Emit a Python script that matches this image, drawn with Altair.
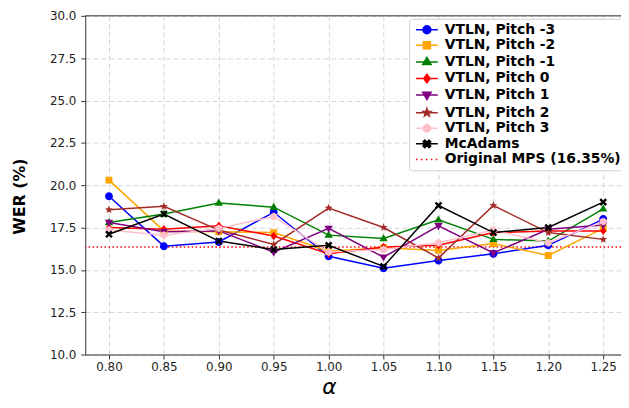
import math
import altair as alt
import pandas as pd

# ---------------- data ----------------
alphas = [0.80, 0.85, 0.90, 0.95, 1.00, 1.05, 1.10, 1.15, 1.20, 1.25]
series_names = ["VTLN, Pitch -3", "VTLN, Pitch -2", "VTLN, Pitch -1", "VTLN, Pitch 0",
                "VTLN, Pitch 1", "VTLN, Pitch 2", "VTLN, Pitch 3", "McAdams"]
wer_pitch_m3 = [19.35, 16.4, 16.65, 18.4, 15.8, 15.1, 15.55, 15.95, 16.45, 18.0]
wer_pitch_m2 = [20.3, 17.3, 17.25, 17.2, 16.1, 16.3, 16.15, 16.55, 15.85, 17.45]
wer_pitch_m1 = [17.8, 18.3, 18.95, 18.7, 17.05, 16.85, 17.95, 16.8, 16.7, 18.6]
wer_pitch_0 = [17.5, 17.4, 17.6, 17.0, 15.95, 16.35, 16.45, 17.2, 17.3, 17.3]
wer_pitch_1 = [17.8, 17.25, 17.3, 16.05, 17.45, 15.75, 17.6, 16.0, 17.4, 17.65]
wer_pitch_2 = [18.55, 18.75, 17.35, 16.5, 18.65, 17.5, 15.7, 18.8, 17.2, 16.8]
wer_pitch_3 = [17.35, 17.05, 17.45, 18.15, 16.05, 16.2, 16.6, 17.35, 16.6, 17.85]
wer_mcadams = [17.1, 18.3, 16.7, 16.2, 16.45, 15.2, 18.8, 17.2, 17.5, 19.0]
baseline_label = "Original MPS (16.35%)"
baseline_wer = 16.35
y_ticks = [10.0, 12.5, 15.0, 17.5, 20.0, 22.5, 25.0, 27.5, 30.0]

all_series = [wer_pitch_m3, wer_pitch_m2, wer_pitch_m1, wer_pitch_0,
              wer_pitch_1, wer_pitch_2, wer_pitch_3, wer_mcadams]
colors = ["#0000ff", "#ffa500", "#008000", "#ff0000", "#800080", "#a52a2a", "#ffc0cb", "#000000", "#ff0000"]

rows = []
for name, vals in zip(series_names, all_series):
    for a, v in zip(alphas, vals):
        rows.append({"alpha": a, "wer": v, "series": name})
df = pd.DataFrame(rows)

# ---------------- marker paths (line segment shown only in legend) ----------------
LINE = "M-2.2,0H2.2"

def poly(pts):
    return "M" + "L".join(f"{x:.3f},{y:.3f}" for x, y in pts) + "Z"

def circle(r):
    return f"M{-r},0A{r},{r},0,1,1,{r},0A{r},{r},0,1,1,{-r},0Z"

def star(R, r):
    pts = []
    for i in range(10):
        ang = math.radians(-90 + 36 * i)
        rad = R if i % 2 == 0 else r
        pts.append((rad * math.cos(ang), rad * math.sin(ang)))
    return poly(pts)

def hexagon(r):
    return poly([(r * math.cos(math.radians(-90 + 60 * i)), r * math.sin(math.radians(-90 + 60 * i))) for i in range(6)])

def xmark(a, w):
    base = [(-w, -a), (w, -a), (w, -w), (a, -w), (a, w), (w, w), (w, a), (-w, a), (-w, w), (-a, w), (-a, -w), (-w, -w)]
    c = math.cos(math.radians(45)); s = math.sin(math.radians(45))
    return poly([(x * c - y * s, x * s + y * c) for x, y in base])

dotted = "".join(f"M{x:.2f},0H{x + 0.3:.2f}" for x in [-2.2, -1.2, -0.2, 0.8, 1.8])

shapes = [
    LINE + circle(0.8),
    LINE + "M-0.7,-0.7H0.7V0.7H-0.7Z",
    LINE + poly([(0, -0.9), (0.85, 0.55), (-0.85, 0.55)]),
    LINE + poly([(0, -0.85), (0.65, 0), (0, 0.85), (-0.65, 0)]),
    LINE + poly([(0, 0.9), (0.85, -0.55), (-0.85, -0.55)]),
    LINE + star(0.85, 0.36),
    LINE + hexagon(0.8),
    LINE + xmark(0.85, 0.24),
    dotted,
]

domain = series_names + [baseline_label]

legend = alt.Legend(
    title=None, orient="none", legendX=327, legendY=3,
    padding=4, fillColor="white", strokeColor="#d0d0d0", cornerRadius=3,
    labelFont="DejaVu Sans", labelFontSize=14, labelFontWeight="bold", labelColor="black",
    labelLimit=400,
    symbolSize=100, symbolStrokeWidth=1.5, symbolOffset=7, labelOffset=11, rowPadding=1.75,
    symbolOpacity=1,
)

x_enc = alt.X("alpha:Q", scale=alt.Scale(domain=[0.7784, 1.2662], nice=False, zero=False),
              axis=alt.Axis(values=alphas, format=".2f", title="α", titleFont="DejaVu Sans",
                            titleFontStyle="italic", titleFontWeight="normal", titleFontSize=22,
                            titleX=246, titleY=39, titleBaseline="alphabetic", titleAlign="center"))
y_enc = alt.Y("wer:Q", scale=alt.Scale(domain=[10, 30], nice=False, zero=False),
              axis=alt.Axis(values=y_ticks, format=".1f", title="WER (%)", titleFont="DejaVu Sans",
                            titleFontWeight="bold", titleFontSize=16, titleAngle=270,
                            titleX=-66, titleY=182, titleAlign="center", titleBaseline="middle"))

color_scale = alt.Scale(domain=domain, range=colors)

base = alt.Chart(df)

lines = base.mark_line(strokeWidth=1.5).encode(
    x=x_enc, y=y_enc,
    stroke=alt.Stroke("series:N", scale=color_scale, legend=legend),
    detail="series:N",
)

points = base.mark_point(filled=True, size=100, strokeWidth=0, opacity=1).encode(
    x="alpha:Q", y="wer:Q",
    fill=alt.Fill("series:N", scale=color_scale, legend=legend),
    stroke=alt.Stroke("series:N", scale=color_scale, legend=legend),
    shape=alt.Shape("series:N", scale=alt.Scale(domain=domain, range=shapes), legend=legend),
)

rule = alt.Chart(pd.DataFrame({"wer": [baseline_wer]})).mark_rule(
    color="red", strokeDash=[1.5, 2.5], strokeWidth=1.5).encode(y="wer:Q")

top_spine = alt.Chart(pd.DataFrame({"wer": [y_ticks[-1]]})).mark_rule(
    color="#333333", strokeWidth=1).encode(y="wer:Q")

chart = alt.layer(rule, lines, points, top_spine).properties(
    width=541, height=342,
    autosize=alt.AutoSizeParams(type="none"),
    padding={"left": 78, "top": 6, "right": 0, "bottom": 44},
).configure_view(stroke=None).configure_axis(
    grid=True, gridColor="#cccccc", gridDash=[5, 3], gridWidth=0.8,
    domainColor="#333333", domainWidth=1, tickColor="#333333", tickSize=4.5, tickWidth=1,
    labelFont="DejaVu Sans", labelFontSize=12, labelColor="#222222", titleColor="black",
).configure_axisX(labelPadding=3).configure_axisY(labelPadding=5)

chart.save("out.html", embed_options={"renderer": "svg", "actions": False})
